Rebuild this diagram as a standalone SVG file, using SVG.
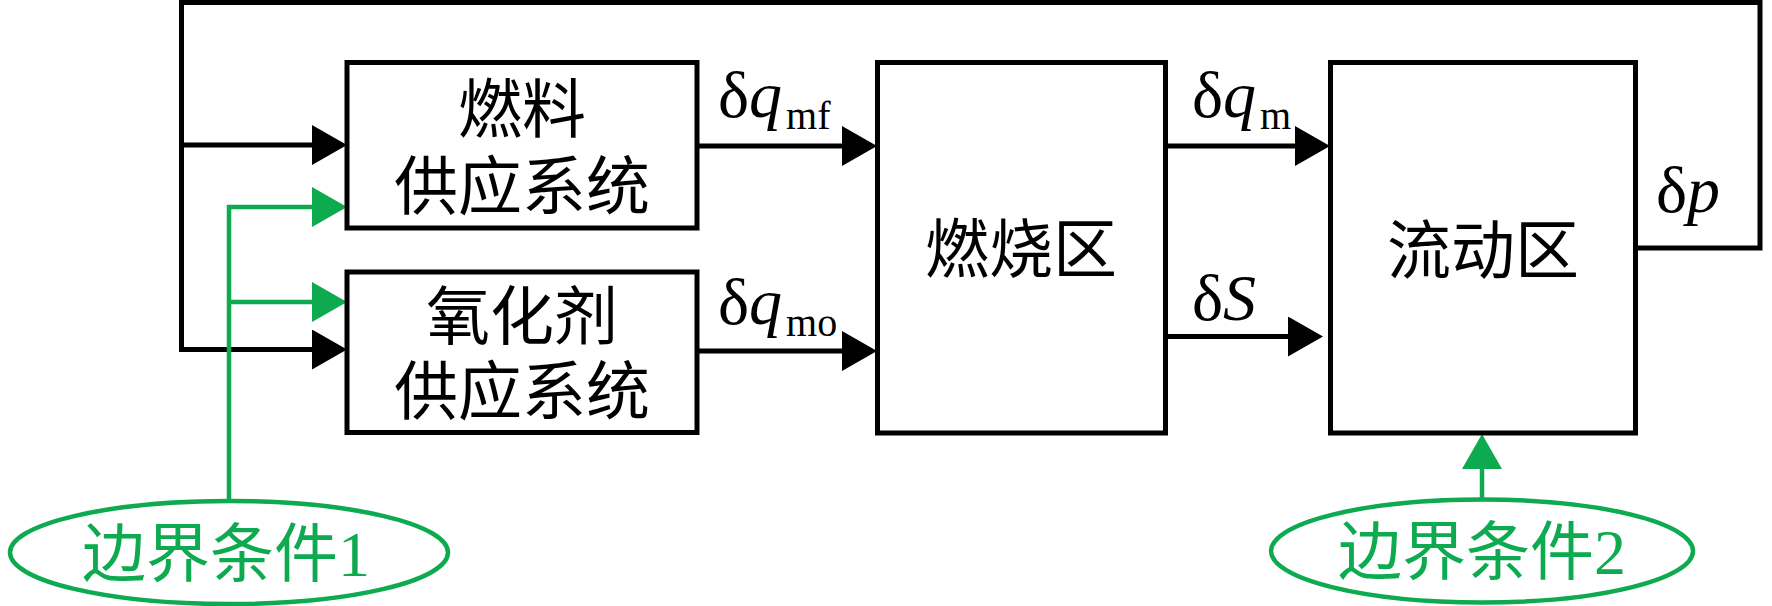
<svg xmlns="http://www.w3.org/2000/svg" width="1772" height="606" viewBox="0 0 1772 606">
<style>
.box{fill:#fff;stroke:#000;stroke-width:5}
.ln{fill:none;stroke:#000;stroke-width:5}
.gln{fill:none;stroke:#0DAA4F;stroke-width:4.5}
.ell{fill:#fff;stroke:#0DAA4F;stroke-width:4.5}
.cn{font-family:"Liberation Serif","Noto Sans CJK SC",serif;font-size:64px;fill:#000;text-anchor:middle}
.gcn{font-family:"Liberation Serif","Noto Sans CJK SC",serif;font-size:64px;fill:#0DAA4F;text-anchor:middle}
.lbl{font-family:"Liberation Serif",serif;font-size:66px;fill:#000}
.it{font-style:italic}
.sub{font-size:40px}
</style>
<defs>
<marker id="ah" viewBox="0 0 35 40" refX="2" refY="20" markerWidth="35" markerHeight="40" markerUnits="userSpaceOnUse" orient="auto">
<path d="M0,0 L35,20 L0,40 Z" fill="#000"/>
</marker>
<marker id="gah" viewBox="0 0 35 40" refX="2" refY="20" markerWidth="35" markerHeight="40" markerUnits="userSpaceOnUse" orient="auto">
<path d="M0,0 L35,20 L0,40 Z" fill="#0DAA4F"/>
</marker>
</defs>

<g id="connectors">
<path class="ln" d="M1635,248 H1760 V2.5 H181.5 V349.5 H314" marker-end="url(#ah)"/>
<path class="ln" d="M181.5,145 H314" marker-end="url(#ah)"/>
<path class="ln" d="M697,146 H844" marker-end="url(#ah)"/>
<path class="ln" d="M697,351 H844" marker-end="url(#ah)"/>
<path class="ln" d="M1166,146 H1297" marker-end="url(#ah)"/>
<path class="ln" d="M1166,336.5 H1290" marker-end="url(#ah)"/>
<path class="gln" d="M229,500 V207 H314" marker-end="url(#gah)"/>
<path class="gln" d="M229,302 H314" marker-end="url(#gah)"/>
<path class="gln" d="M1482,499 V467" marker-end="url(#gah)"/>
<text class="lbl" x="718" y="117">δ<tspan class="it">q</tspan><tspan class="sub" dx="4" dy="12">mf</tspan></text>
<text class="lbl" x="718" y="324">δ<tspan class="it">q</tspan><tspan class="sub" dx="4" dy="12">mo</tspan></text>
<text class="lbl" x="1192" y="117">δ<tspan class="it">q</tspan><tspan class="sub" dx="4" dy="12">m</tspan></text>
<text class="lbl" x="1192" y="320">δ<tspan class="it">S</tspan></text>
<text class="lbl" x="1656" y="212">δ<tspan class="it">p</tspan></text>
</g>

<g id="fuel">
<rect class="box" x="347" y="62.5" width="350" height="165.5"/>
<text class="cn" x="522" y="132">燃料</text>
<text class="cn" x="522" y="209">供应系统</text>
</g>

<g id="oxidizer">
<rect class="box" x="347" y="272" width="350" height="160.5"/>
<text class="cn" x="522" y="339">氧化剂</text>
<text class="cn" x="522" y="414">供应系统</text>
</g>

<g id="combustion">
<rect class="box" x="877.5" y="62.5" width="288" height="370.5"/>
<text class="cn" x="1021" y="272">燃烧区</text>
</g>

<g id="flow">
<rect class="box" x="1330.5" y="62.5" width="305" height="370.5"/>
<text class="cn" x="1483" y="273">流动区</text>
</g>

<g id="bc1">
<ellipse class="ell" cx="229" cy="552.5" rx="219" ry="51.5"/>
<text class="gcn" x="226" y="576">边界条件1</text>
</g>

<g id="bc2">
<ellipse class="ell" cx="1482" cy="551" rx="211" ry="51.5"/>
<text class="gcn" x="1482" y="574">边界条件2</text>
</g>
</svg>
